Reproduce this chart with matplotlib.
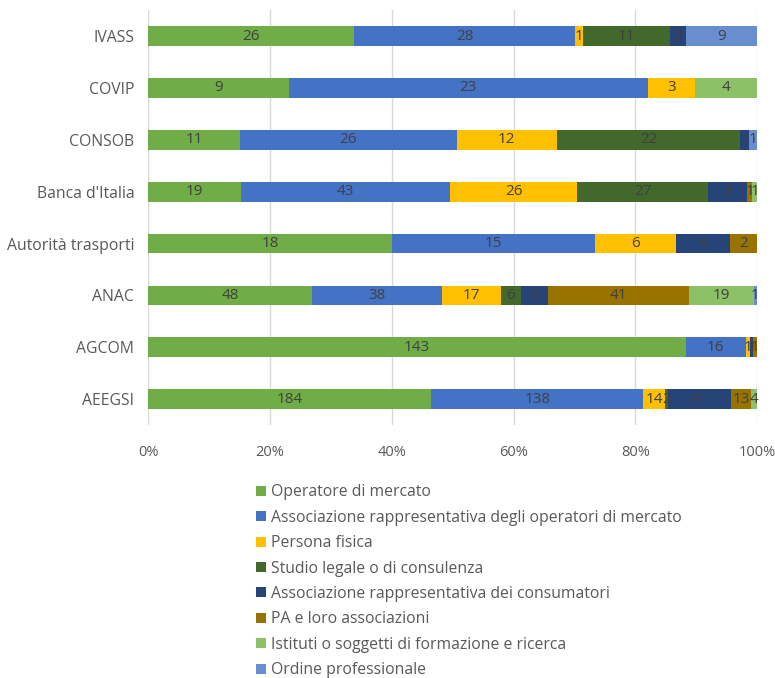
import numpy as np
import matplotlib.pyplot as plt
from matplotlib.patches import Patch
from matplotlib.ticker import PercentFormatter

plt.rcParams['font.family'] = ['Open Sans', 'DejaVu Sans']

categories = ["AEEGSI", "AGCOM", "ANAC", "Autorità trasporti",
              "Banca d'Italia", "CONSOB", "COVIP", "IVASS"]
series_names = ["Operatore di mercato",
                "Associazione rappresentativa degli operatori di mercato",
                "Persona fisica",
                "Studio legale o di consulenza",
                "Associazione rappresentativa dei consumatori",
                "PA e loro associazioni",
                "Istituti o soggetti di formazione e ricerca",
                "Ordine professionale"]

operatore = [184, 143, 48, 18, 19, 11, 9, 26]
assoc_operatori = [138, 16, 38, 15, 43, 26, 23, 28]
persona = [14, 1, 17, 6, 26, 12, 3, 1]
studio = [2, 0, 6, 0, 27, 22, 0, 11]
assoc_consumatori = [41, 1, 8, 4, 8, 1, 0, 2]
pa = [13, 1, 41, 2, 1, 0, 0, 0]
istituti = [4, 0, 19, 0, 1, 0, 4, 0]
ordine = [0, 0, 1, 0, 0, 1, 0, 9]

colors = ["#70AD47", "#4472C4", "#FFC000", "#43682B",
          "#264478", "#997300", "#8CC168", "#698ED0"]

series = [operatore, assoc_operatori, persona, studio,
          assoc_consumatori, pa, istituti, ordine]
values = np.array(series, dtype=float)
totals = values.sum(axis=0)
shares = values / totals

fig = plt.figure(figsize=(7.75, 6.78), dpi=100)
ax = fig.add_axes([0.191, 0.373, 0.786, 0.612])

y = np.arange(len(categories))
left = np.zeros(len(categories))
for i, name in enumerate(series_names):
    ax.barh(y, shares[i], left=left, height=0.38, color=colors[i],
            label=name, zorder=2)
    for j in range(len(categories)):
        if values[i, j] > 0:
            ax.text(left[j] + shares[i, j] / 2, y[j], f"{int(values[i, j])}",
                    ha="center", va="center", fontsize=11, color="#404040",
                    zorder=3)
    left += shares[i]

ax.set_xlim(0, 1)
ax.set_ylim(-0.5, len(categories) - 0.5)
ax.set_yticks(y)
ax.set_yticklabels(categories)
ax.set_xticks([0, 0.2, 0.4, 0.6, 0.8, 1.0])
ax.xaxis.set_major_formatter(PercentFormatter(1.0, decimals=0))
ax.tick_params(length=0, labelsize=11.3, colors="#595959", pad=10)
ax.tick_params(axis="x", pad=14, labelsize=10.5)
ax.grid(axis="x", color="#D9D9D9", linewidth=1, zorder=0)
for s in ax.spines.values():
    s.set_visible(False)

handles = [Patch(facecolor=c, label=n) for c, n in zip(colors, series_names)]
fig.legend(handles=handles, loc="upper left",
           bbox_to_anchor=(250 / 775, 1 - 478 / 678), frameon=False,
           fontsize=11.3, labelcolor="#595959", handlelength=0.6,
           handleheight=0.6, handletextpad=0.35, labelspacing=0.6,
           borderaxespad=0)

fig.savefig("out.png", dpi=100)
